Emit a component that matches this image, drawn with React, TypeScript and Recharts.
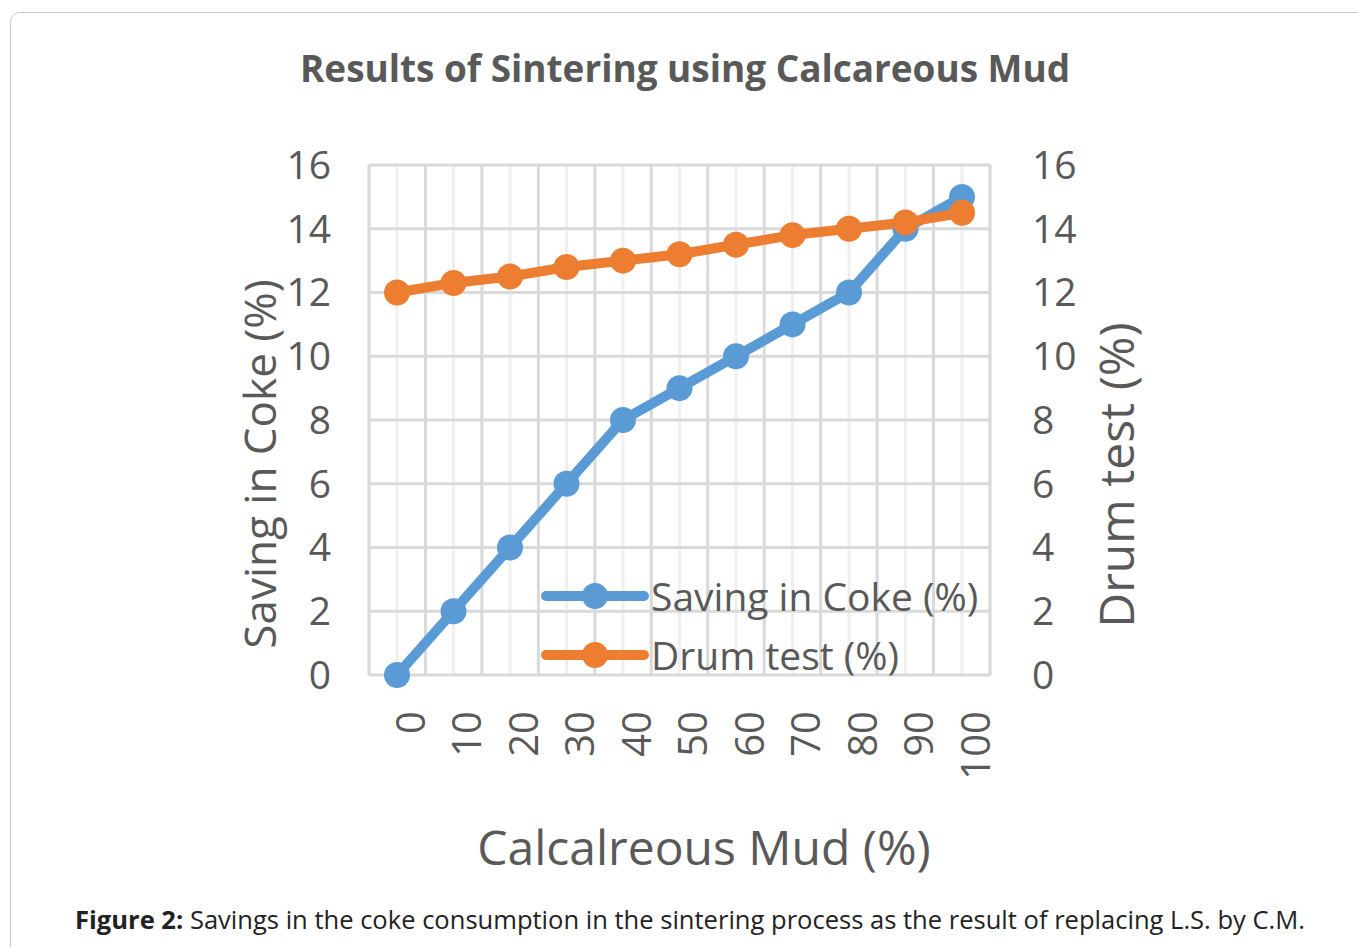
import React from 'react';
import { CartesianGrid, Legend, Line, LineChart, XAxis, YAxis } from 'recharts';

const categories = ['0', '10', '20', '30', '40', '50', '60', '70', '80', '90', '100'];
const savingInCoke = [0, 2, 4, 6, 8, 9, 10, 11, 12, 14, 15];
const drumTest = [12, 12.3, 12.5, 12.8, 13, 13.2, 13.5, 13.8, 14, 14.2, 14.5];
const yTicks = [0, 2, 4, 6, 8, 10, 12, 14, 16];

const seriesInfo = [
  { key: 'saving', name: 'Saving in Coke (%)', color: '#5B9BD5' },
  { key: 'drum', name: 'Drum test (%)', color: '#ED7D31' },
];

const data = categories.map((c, i) => ({ mud: c, saving: savingInCoke[i], drum: drumTest[i] }));

const FONT = "'Open Sans', 'Noto Sans', sans-serif";
const TEXT = '#595959';

const XTick = (props: any) => {
  const { x, y, payload } = props;
  const tx = x + 12;
  const ty = y;
  return (
    <text
      x={tx}
      y={ty}
      transform={`rotate(-90 ${tx} ${ty})`}
      textAnchor="end"
      dominantBaseline="central"
      fontFamily={FONT}
      fontSize={40}
      fill={TEXT}
    >
      {payload.value}
    </text>
  );
};

const LegendBox = () => (
  <div style={{ fontFamily: FONT, fontSize: 39, color: TEXT, width: 480 }}>
    {seriesInfo.map((s) => (
      <div key={s.key} style={{ display: 'flex', alignItems: 'center', height: 59 }}>
        <svg width={108} height={30} style={{ marginRight: 2, flexShrink: 0 }}>
          <line x1={5} y1={15} x2={103} y2={15} stroke={s.color} strokeWidth={10} strokeLinecap="round" />
          <circle cx={54} cy={15} r={13} fill={s.color} />
        </svg>
        <span style={{ whiteSpace: 'nowrap', lineHeight: 1 }}>{s.name}</span>
      </div>
    ))}
  </div>
);

export default function App() {
  return (
    <div style={{ position: 'absolute', left: 0, top: 0, width: 1358, height: 947, background: '#fff', overflow: 'hidden' }}>
      <div
        style={{
          position: 'absolute',
          left: 10,
          top: 12,
          width: 1400,
          height: 1000,
          border: '1.5px solid #c8c8c8',
          borderRadius: 10,
        }}
      />
      <div style={{ position: 'absolute', left: 0, top: 0 }}>
        <LineChart width={1358} height={947} data={data} margin={{ top: 165, right: 268, bottom: 172, left: 269 }}>
          <CartesianGrid yAxisId="left" horizontal={false} stroke="#EFEFEF" strokeWidth={3} />
          <CartesianGrid
            yAxisId="left"
            horizontal={false}
            stroke="#D9D9D9"
            strokeWidth={3}
            verticalCoordinatesGenerator={({ offset }: any) =>
              Array.from({ length: categories.length + 1 }, (_, i) => offset.left + (i * offset.width) / categories.length)
            }
          />
          <CartesianGrid yAxisId="left" vertical={false} stroke="#D9D9D9" strokeWidth={3} />
          <XAxis
            dataKey="mud"
            height={100}
            padding={{ left: 28, right: 28 }}
            axisLine={false}
            tickLine={false}
            tickSize={0}
            tickMargin={36}
            interval={0}
            tick={<XTick />}
          />
          <YAxis
            yAxisId="left"
            width={100}
            domain={[0, 16]}
            ticks={yTicks}
            axisLine={false}
            tickLine={false}
            tickSize={0}
            tickMargin={38}
            interval={0}
            tick={{ fontFamily: FONT, fontSize: 39, fill: TEXT }}
          />
          <YAxis
            yAxisId="right"
            orientation="right"
            width={100}
            domain={[0, 16]}
            ticks={yTicks}
            axisLine={false}
            tickLine={false}
            tickSize={0}
            tickMargin={42}
            interval={0}
            tick={{ fontFamily: FONT, fontSize: 39, fill: TEXT }}
          />
          <Legend
            content={<LegendBox />}
            wrapperStyle={{ position: 'absolute', left: 541, top: 566, width: 0, height: 0, overflow: 'visible' }}
          />
          <Line
            yAxisId="left"
            dataKey="saving"
            name={seriesInfo[0].name}
            stroke={seriesInfo[0].color}
            strokeWidth={10}
            dot={{ r: 13, fill: seriesInfo[0].color, stroke: seriesInfo[0].color, strokeWidth: 0 }}
            isAnimationActive={false}
          />
          <Line
            yAxisId="right"
            dataKey="drum"
            name={seriesInfo[1].name}
            stroke={seriesInfo[1].color}
            strokeWidth={10}
            dot={{ r: 13, fill: seriesInfo[1].color, stroke: seriesInfo[1].color, strokeWidth: 0 }}
            isAnimationActive={false}
          />
        </LineChart>
      </div>
      <svg width={1358} height={947} style={{ position: 'absolute', left: 0, top: 0, pointerEvents: 'none' }}>
        <text
          x={685}
          y={82}
          textAnchor="middle"
          fontFamily={FONT}
          fontWeight={700}
          fontSize={38}
          fill={TEXT}
          textLength={770}
          lengthAdjust="spacingAndGlyphs"
        >
          Results of Sintering using Calcareous Mud
        </text>
        <text
          x={276}
          y={464}
          transform="rotate(-90 276 464)"
          textAnchor="middle"
          fontFamily={FONT}
          fontSize={44}
          fill={TEXT}
        >
          Saving in Coke (%)
        </text>
        <text
          x={1134}
          y={475}
          transform="rotate(-90 1134 475)"
          textAnchor="middle"
          fontFamily={FONT}
          fontSize={48}
          fill={TEXT}
        >
          Drum test (%)
        </text>
        <text x={704} y={865} textAnchor="middle" fontFamily={FONT} fontSize={48} fill={TEXT}>
          Calcalreous Mud (%)
        </text>
        <text
          x={75}
          y={929}
          fontFamily={FONT}
          fontSize={25}
          fill="#222"
          textLength={1230}
          lengthAdjust="spacingAndGlyphs"
        >
          <tspan fontWeight={700}>Figure 2:</tspan> Savings in the coke consumption in the sintering process as the result of replacing L.S. by C.M.
        </text>
      </svg>
    </div>
  );
}
